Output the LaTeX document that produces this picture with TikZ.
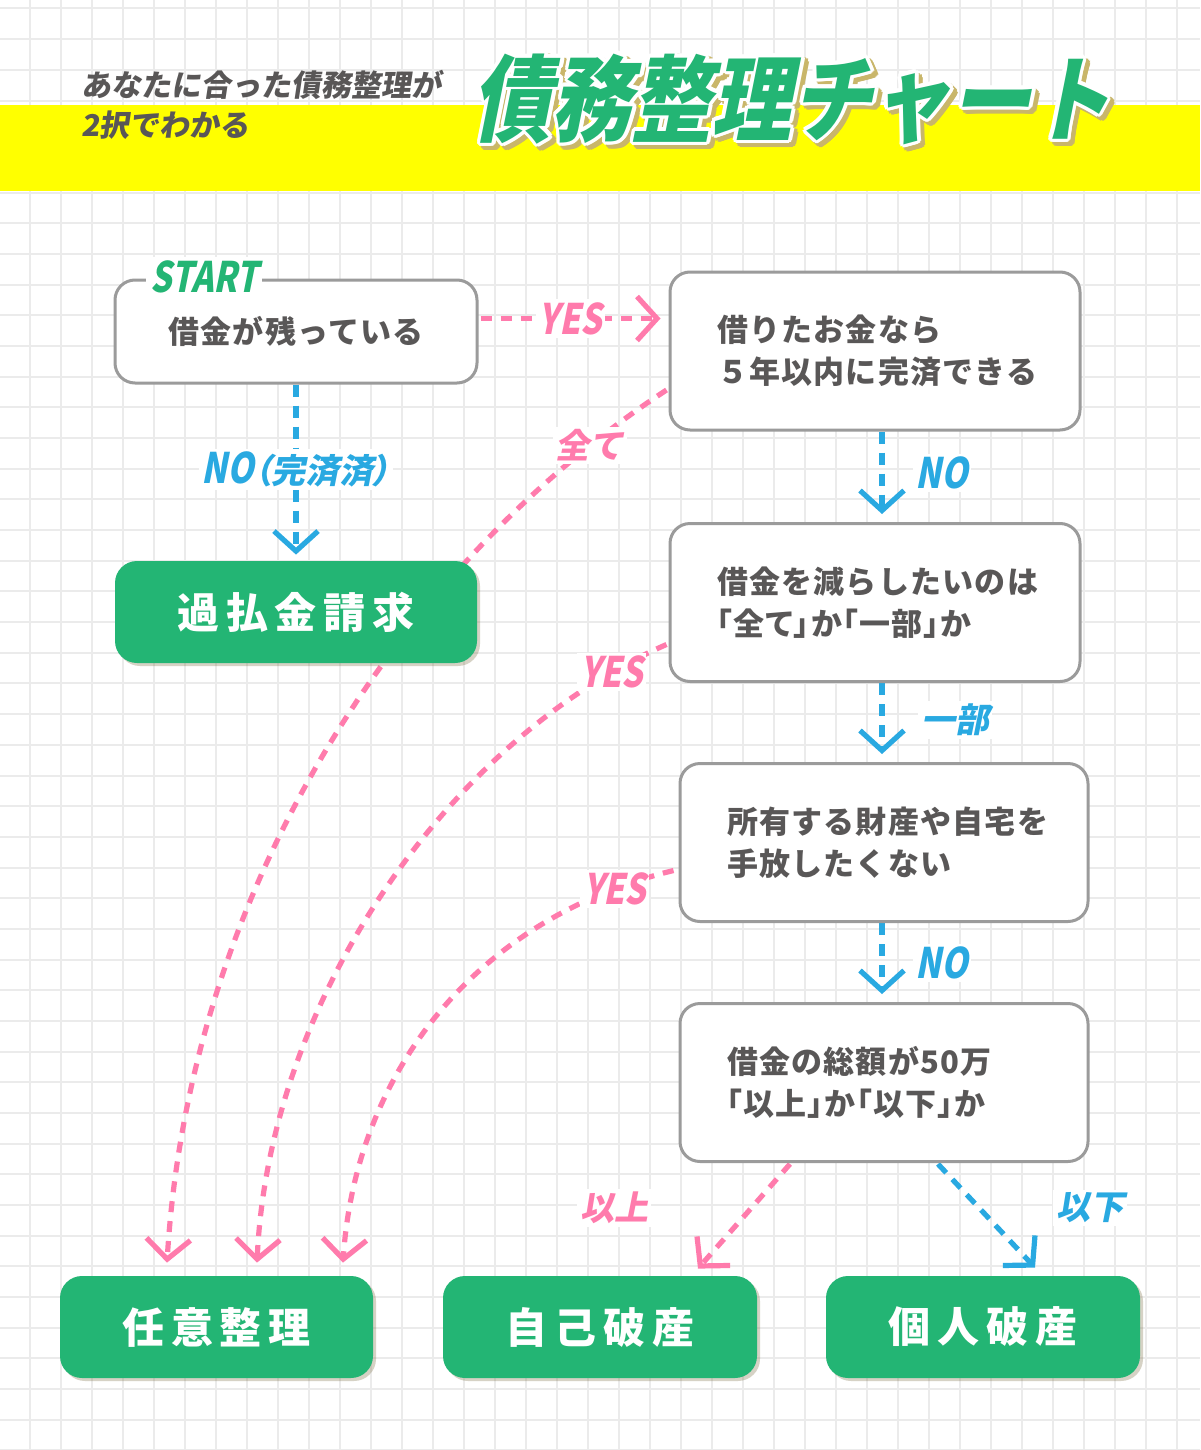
\documentclass[tikz,border=0pt]{standalone}
\usepackage{fontspec}
\setmainfont{Noto Sans CJK JP}
\newfontfamily\boxfont[LetterSpace=4]{Noto Sans CJK JP}
\newfontfamily\btnfont[LetterSpace=16]{Noto Sans CJK JP}
\newfontfamily\lblfont[FakeSlant=0.2]{Noto Sans CJK JP}
\newfontfamily\lblenfont[FakeSlant=0.2,FakeStretch=0.8]{Noto Sans CJK JP}
\newfontfamily\titlefont[FakeSlant=0.2,FakeStretch=0.85]{Noto Sans CJK JP}
\newfontfamily\subfont[FakeSlant=0.15]{Noto Sans CJK JP}
\usepackage[copies]{contour}
\usetikzlibrary{arrows.meta,positioning,calc,shadows}
\definecolor{chgreen}{HTML}{23B574}
\definecolor{chpink}{HTML}{FF7BAC}
\definecolor{chblue}{HTML}{29A9E1}
\definecolor{chgray}{HTML}{9B9B9B}
\definecolor{chtext}{HTML}{595757}
\definecolor{chyellow}{HTML}{FFFF00}
\definecolor{chgrid}{HTML}{EBEBEB}
\definecolor{chshadow}{HTML}{C9B66A}
\pgfdeclarelayer{grid}
\pgfdeclarelayer{edges}
\pgfsetlayers{grid,edges,main}
\newcommand\entxt[1]{{\lblenfont\bfseries\fontsize{21}{21}\selectfont #1}}
\newcommand\prop[1]{{\addfontfeature{CharacterWidth=AlternateProportional}#1}}
\hfuzz=40pt

\begin{document}
\begin{tikzpicture}[x=0.5pt,y=-0.5pt,>={Straight Barb[length=10pt,width=22pt]}]
        \tikzset{gridline/.style={draw=chgrid,line width=1pt},
          qbox/.style={draw=chgray,line width=1.5pt,fill=white,rounded corners=10pt,minimum height=79pt,inner xsep=23.5pt,align=left,text=chtext,font=\boxfont\bfseries\fontsize{15.5}{21}\selectfont},
          gbox/.style={fill=chgreen,rounded corners=11pt,minimum height=51pt,text=white,font=\btnfont\bfseries\fontsize{21}{21}\selectfont,
            drop shadow={shadow xshift=1.5pt,shadow yshift=-1.5pt,fill=chshadow!60!black,opacity=.3}},
          yesline/.style={->,chpink,line width=2.6pt,dash pattern=on 5.5pt off 4.5pt},
          noline/.style={->,chblue,line width=2.6pt,dash pattern=on 6pt off 4.5pt},
          lbl/.style={fill=white,inner sep=1.5pt,font=\lblfont\bfseries\fontsize{17}{17}\selectfont}}
        \useasboundingbox (0,0) rectangle (1200,1450);
        % background
        \begin{pgfonlayer}{grid}
          \fill[white] (0,0) rectangle (1200,1450);
          \foreach \k in {1,...,39} \draw[gridline] (31*\k-1,0) -- (31*\k-1,1450);
          \foreach \k in {0,...,47} \draw[gridline] (0,8.5+30.68*\k) -- (1200,8.5+30.68*\k);
          \fill[chyellow] (0,105) rectangle (1200,191);
        \end{pgfonlayer}
        % heading
        \node[anchor=west,align=left,text=chtext,font=\subfont\bfseries\fontsize{15}{20}\selectfont] (subtitle) at (74,105) {あなたに合った債務整理が\\2択でわかる};
        \node[text=chshadow,font=\titlefont\bfseries\fontsize{47}{47}\selectfont] (titleshadow) at (795,105) {\contourlength{1.8pt}\contour{chshadow}{債務整理チャート}};
        \node[text=chgreen,font=\titlefont\bfseries\fontsize{47}{47}\selectfont] (title) at (791,101) {\contourlength{1.8pt}\contour{white}{債務整理チャート}};
        % questions
        \node[qbox,minimum width=181pt,minimum height=51.5pt,align=center] (start) at (296,331.5) {借金が残っている};
        \node[fill=white,inner sep=2pt,text=chgreen,anchor=west] (startlbl) at (146,277) {\entxt{START}};
        \node[qbox,text width=158pt] (q2) at (875,351) {借りたお金なら\\５年以内に完済できる};
        \node[qbox,text width=158pt] (q3) at (875,602.5) {借金を減らしたいのは\\\prop{「全て」か「一部」か}};
        \node[qbox,text width=157pt] (q4) at (884,842.5) {所有する財産や自宅を\\手放したくない};
        \node[qbox,text width=157pt] (q5) at (884,1082.5) {借金の総額が50万\\\prop{「以上」か「以下」か}};
        % results
        \node[gbox,minimum width=181pt] (kabarai) at (296,612) {過払金請求};
        \node[gbox,minimum width=156.5pt] (nini) at (216.5,1327) {任意整理};
        \node[gbox,minimum width=157pt] (jiko) at (600,1327) {自己破産};
        \node[gbox,minimum width=157pt] (kojin) at (983,1327) {個人破産};
        % connectors
        \begin{pgfonlayer}{edges}
          \draw[yesline] ($(start.east)+(2,-13)$) -- node[lbl,text=chpink] {\entxt{YES}} ($(start.east -| q2.west)+(-8,-13)$);
          \draw[noline] (start.south) -- node[lbl,text=chblue] {\entxt{NO}\prop{（完済済）}} ($(kabarai.north)+(0,-6)$);
          \draw[yesline] ($(q2.west)+(-2,39)$) .. controls +(-260,170) and +(23,-380) .. node[lbl,pos=.1,text=chpink] {全て} ($(nini.north)+(-49.5,-13)$);
          \draw[yesline] ($(q3.west)+(-2,42)$) .. controls +(-218,95) and +(12,-262) .. node[lbl,pos=.085,text=chpink] {\entxt{YES}} ($(nini.north)+(40.5,-13)$);
          \draw[yesline] ($(q4.west)+(-5,28)$) .. controls +(-205,50) and +(12,-182) .. node[lbl,pos=.1,text=chpink] {\entxt{YES}} ($(nini.north)+(126.5,-13)$);
          \draw[noline] ($(q2.south)+(7,0)$) -- ($(q3.north)+(7,-8)$);
          \draw[noline] ($(q3.south)+(7,0)$) -- ($(q4.north)+(-2,-8)$);
          \draw[noline] ($(q4.south)+(-2,0)$) -- ($(q5.north)+(-2,-8)$);
          \draw[yesline] ($(q5.south)+(-94,1)$) -- ($(jiko.north)+(98,-7)$);
          \draw[noline] ($(q5.south)+(54,1)$) -- ($(kojin.north)+(52,-8)$);
        \end{pgfonlayer}
        % branch labels
        \node[lbl,text=chblue] (noq2) at (942,473) {\entxt{NO}};
        \node[lbl,text=chblue] (ichibu) at (955,720) {一部};
        \node[lbl,text=chblue] (noq4) at (942,963) {\entxt{NO}};
        \node[lbl,text=chpink] (ijou) at (614,1208) {以上};
        \node[lbl,text=chblue] (ika) at (1090,1208) {以下};
      \end{tikzpicture}
\end{document}
